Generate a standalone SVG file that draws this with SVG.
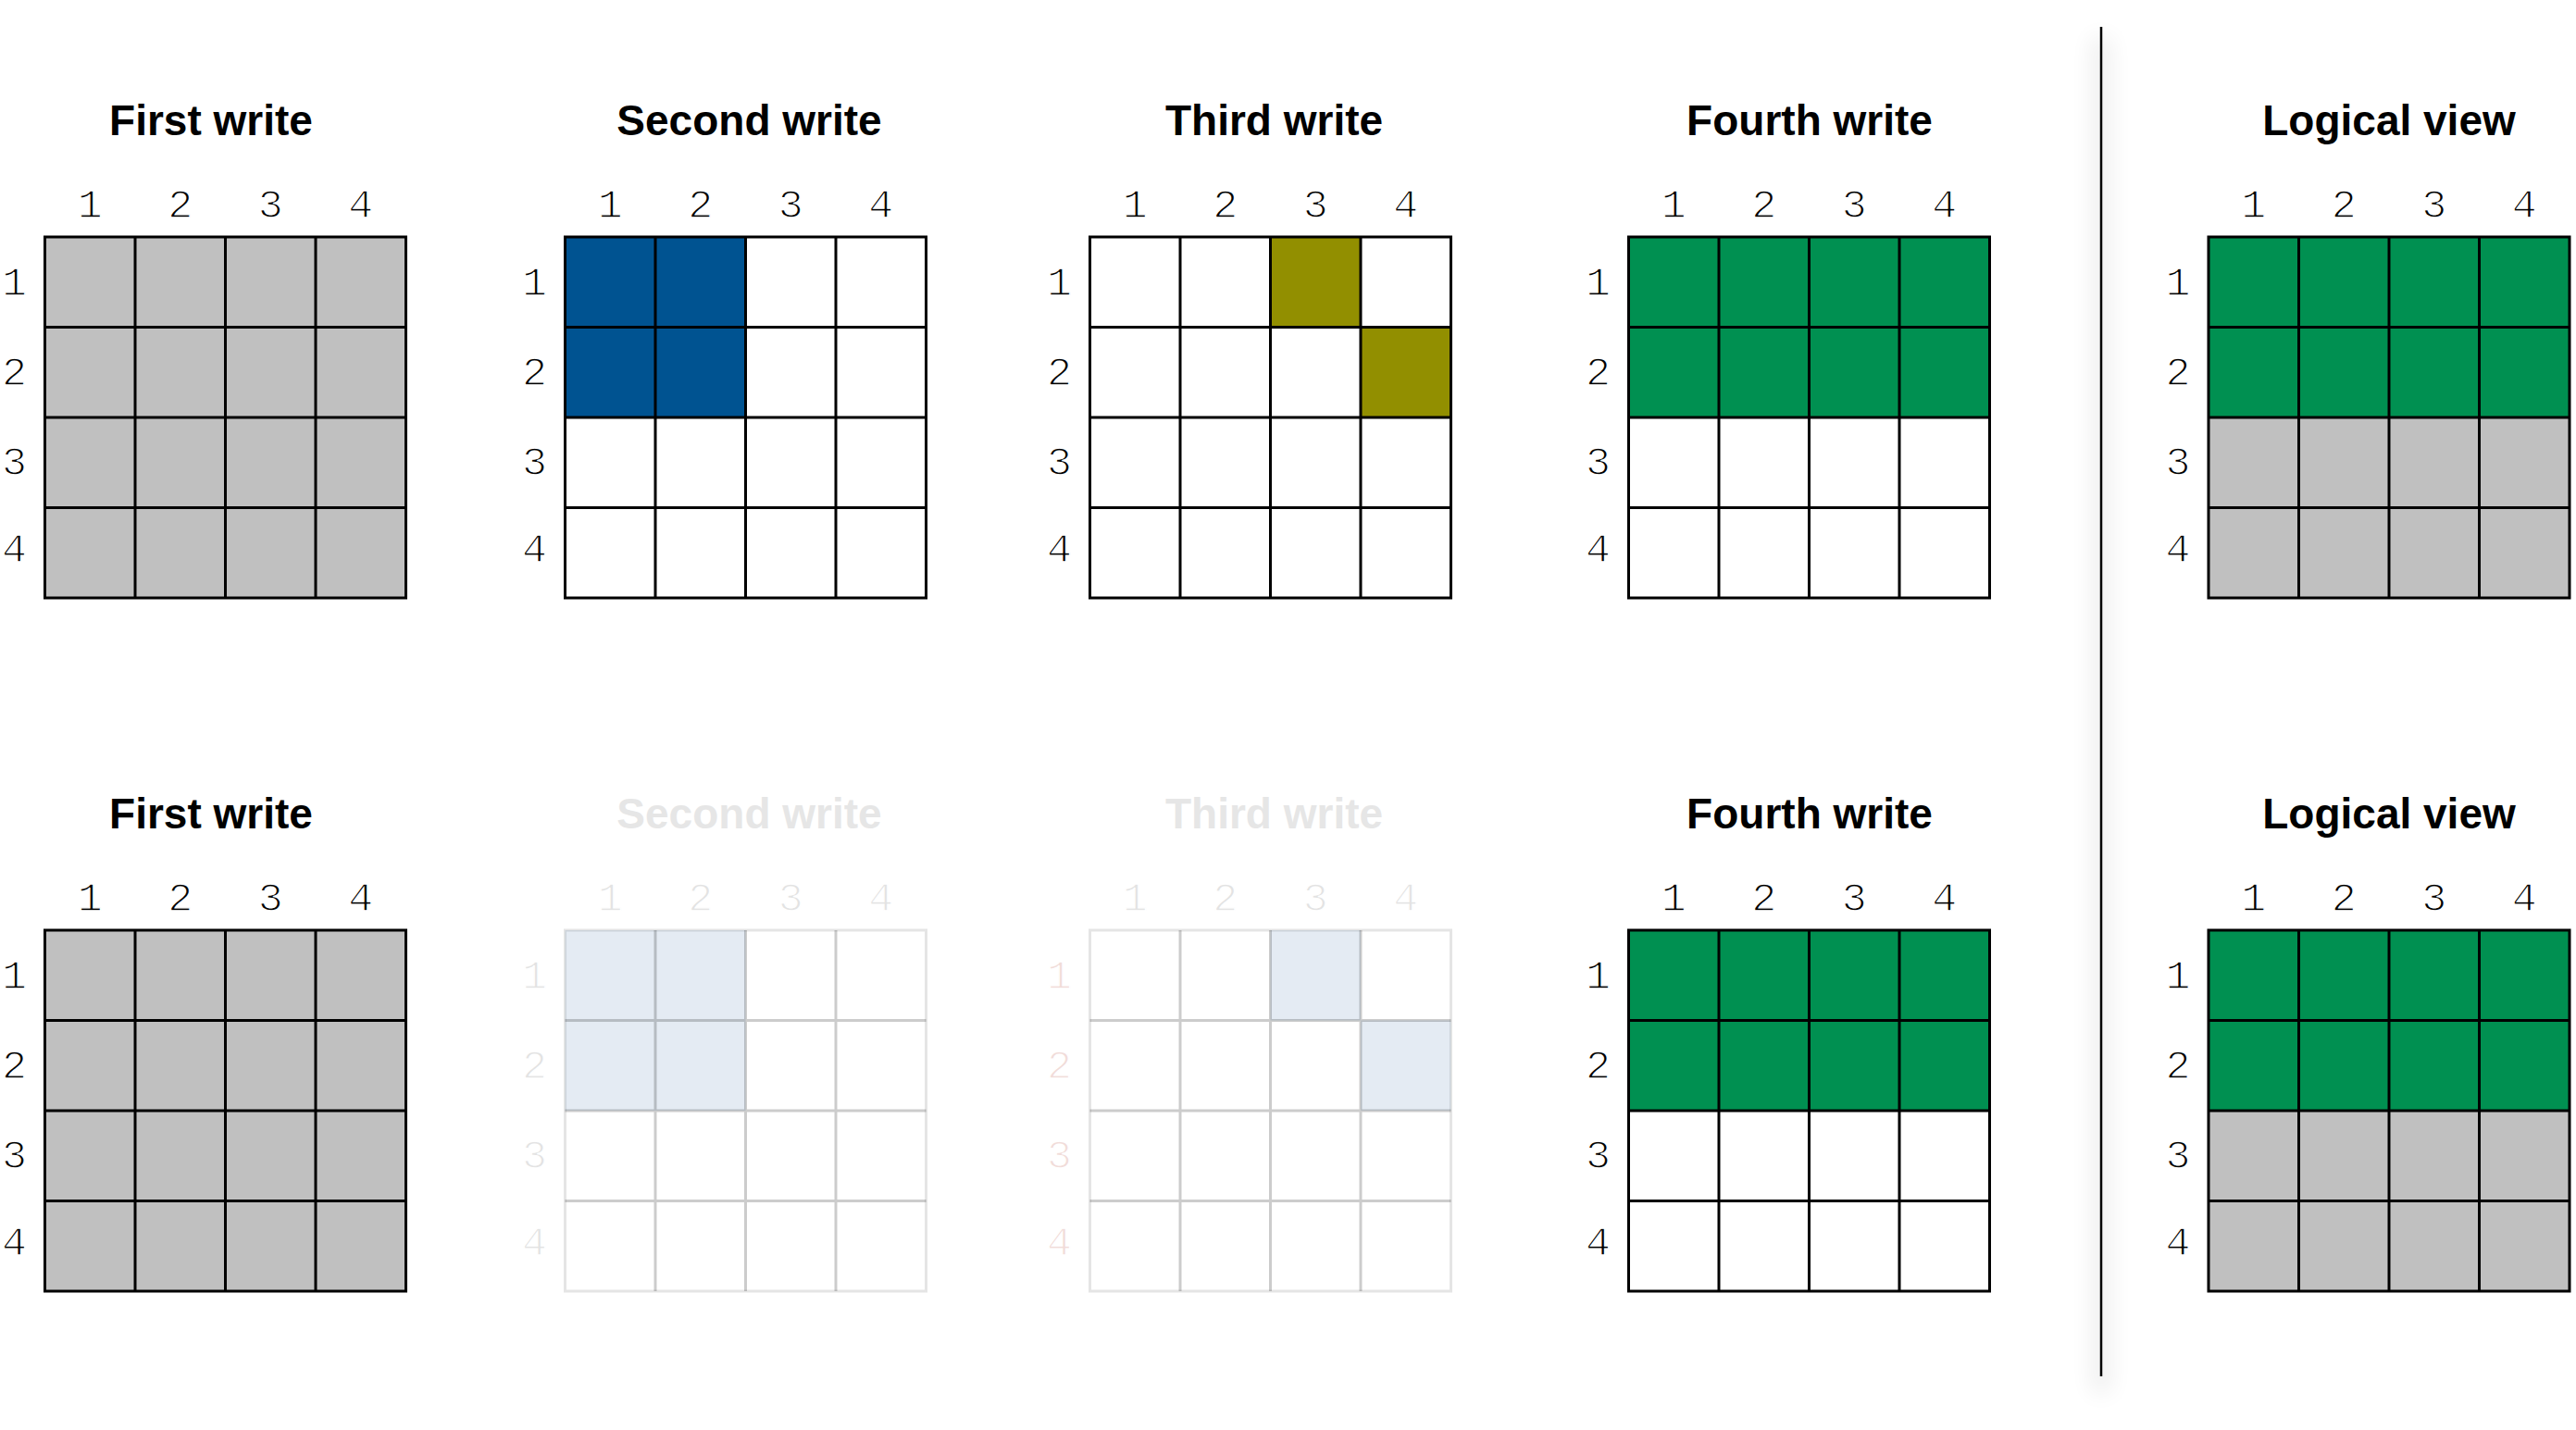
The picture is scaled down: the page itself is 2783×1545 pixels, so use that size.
<svg xmlns="http://www.w3.org/2000/svg" width="2783" height="1545" viewBox="0 0 2783 1545">
<defs>
<style>
.title{font-family:"Liberation Sans",Arial,sans-serif;font-weight:bold;font-size:46px;fill:#000;text-anchor:middle}
.num{font-family:"Liberation Mono","Courier New",monospace;font-size:45px;fill:#000;text-anchor:middle;stroke:#fff;stroke-width:1.4px}
.g{fill:#c0c0c0}
.w{fill:#ffffff}
.b{fill:#005391}
.o{fill:#928f00}
.gr{fill:#009051}
.lines{fill:none;stroke:#000;stroke-width:3}
.border{fill:none;stroke:#000;stroke-width:3}
.faded .title{fill:#e6e6e6}
.faded .num{fill:#e3e3e3}
.faded .num.pink{fill:#f1dcd9}
.faded .b{fill:#e4ebf3}
.faded .lines{stroke:#000;stroke-opacity:0.2}
.faded .border{stroke:#000;stroke-opacity:0.1}
</style>
<filter id="blur" x="-5" y="-1" width="11" height="3"><feGaussianBlur stdDeviation="12"/></filter>
<path id="inner" d="M97.5 0V390M195 0V390M292.5 0V390M0 97.5H390M0 195H390M0 292.5H390"/>
</defs>
<rect width="2783" height="1545" fill="#fff"/>

<!-- Row 1 -->
<g id="first-write-1" transform="translate(48.5,256)">
<text class="title" x="179.5" y="-110">First write</text>
<text class="num" x="48.75" y="-21">1</text><text class="num" x="146.25" y="-21">2</text><text class="num" x="243.75" y="-21">3</text><text class="num" x="341.25" y="-21">4</text>
<text class="num" x="-33" y="63">1</text><text class="num" x="-33" y="160">2</text><text class="num" x="-33" y="257">3</text><text class="num" x="-33" y="351">4</text>
<rect class="g" width="390" height="390"/>
<use href="#inner" class="lines"/>
<rect class="border" width="390" height="390"/>
</g>

<g id="second-write-1" transform="translate(610.5,256)">
<text class="title" x="199" y="-110">Second write</text>
<text class="num" x="48.75" y="-21">1</text><text class="num" x="146.25" y="-21">2</text><text class="num" x="243.75" y="-21">3</text><text class="num" x="341.25" y="-21">4</text>
<text class="num" x="-33" y="63">1</text><text class="num" x="-33" y="160">2</text><text class="num" x="-33" y="257">3</text><text class="num" x="-33" y="351">4</text>
<rect class="w" width="390" height="390"/>
<rect class="b" width="195" height="195"/>
<use href="#inner" class="lines"/>
<rect class="border" width="390" height="390"/>
</g>

<g id="third-write-1" transform="translate(1177.5,256)">
<text class="title" x="199" y="-110">Third write</text>
<text class="num" x="48.75" y="-21">1</text><text class="num" x="146.25" y="-21">2</text><text class="num" x="243.75" y="-21">3</text><text class="num" x="341.25" y="-21">4</text>
<text class="num" x="-33" y="63">1</text><text class="num" x="-33" y="160">2</text><text class="num" x="-33" y="257">3</text><text class="num" x="-33" y="351">4</text>
<rect class="w" width="390" height="390"/>
<rect class="o" x="195" y="0" width="97.5" height="97.5"/>
<rect class="o" x="292.5" y="97.5" width="97.5" height="97.5"/>
<use href="#inner" class="lines"/>
<rect class="border" width="390" height="390"/>
</g>

<g id="fourth-write-1" transform="translate(1759.5,256)">
<text class="title" x="195.5" y="-110">Fourth write</text>
<text class="num" x="48.75" y="-21">1</text><text class="num" x="146.25" y="-21">2</text><text class="num" x="243.75" y="-21">3</text><text class="num" x="341.25" y="-21">4</text>
<text class="num" x="-33" y="63">1</text><text class="num" x="-33" y="160">2</text><text class="num" x="-33" y="257">3</text><text class="num" x="-33" y="351">4</text>
<rect class="w" width="390" height="390"/>
<rect class="gr" width="390" height="195"/>
<use href="#inner" class="lines"/>
<rect class="border" width="390" height="390"/>
</g>

<g id="logical-view-1" transform="translate(2386,256)">
<text class="title" x="195" y="-110">Logical view</text>
<text class="num" x="48.75" y="-21">1</text><text class="num" x="146.25" y="-21">2</text><text class="num" x="243.75" y="-21">3</text><text class="num" x="341.25" y="-21">4</text>
<text class="num" x="-33" y="63">1</text><text class="num" x="-33" y="160">2</text><text class="num" x="-33" y="257">3</text><text class="num" x="-33" y="351">4</text>
<rect class="g" width="390" height="390"/>
<rect class="gr" width="390" height="195"/>
<use href="#inner" class="lines"/>
<rect class="border" width="390" height="390"/>
</g>

<!-- Row 2 -->
<g id="first-write-2" transform="translate(48.5,1005)">
<text class="title" x="179.5" y="-110">First write</text>
<text class="num" x="48.75" y="-21">1</text><text class="num" x="146.25" y="-21">2</text><text class="num" x="243.75" y="-21">3</text><text class="num" x="341.25" y="-21">4</text>
<text class="num" x="-33" y="63">1</text><text class="num" x="-33" y="160">2</text><text class="num" x="-33" y="257">3</text><text class="num" x="-33" y="351">4</text>
<rect class="g" width="390" height="390"/>
<use href="#inner" class="lines"/>
<rect class="border" width="390" height="390"/>
</g>

<g id="second-write-2" class="faded" transform="translate(610.5,1005)">
<text class="title" x="199" y="-110">Second write</text>
<text class="num" x="48.75" y="-21">1</text><text class="num" x="146.25" y="-21">2</text><text class="num" x="243.75" y="-21">3</text><text class="num" x="341.25" y="-21">4</text>
<text class="num" x="-33" y="63">1</text><text class="num" x="-33" y="160">2</text><text class="num" x="-33" y="257">3</text><text class="num" x="-33" y="351">4</text>
<rect class="w" width="390" height="390"/>
<rect class="b" width="195" height="195"/>
<use href="#inner" class="lines"/>
<rect class="border" width="390" height="390"/>
</g>

<g id="third-write-2" class="faded" transform="translate(1177.5,1005)">
<text class="title" x="199" y="-110">Third write</text>
<text class="num" x="48.75" y="-21">1</text><text class="num" x="146.25" y="-21">2</text><text class="num" x="243.75" y="-21">3</text><text class="num" x="341.25" y="-21">4</text>
<text class="num pink" x="-33" y="63">1</text><text class="num pink" x="-33" y="160">2</text><text class="num pink" x="-33" y="257">3</text><text class="num pink" x="-33" y="351">4</text>
<rect class="w" width="390" height="390"/>
<rect class="b" x="195" y="0" width="97.5" height="97.5"/>
<rect class="b" x="292.5" y="97.5" width="97.5" height="97.5"/>
<use href="#inner" class="lines"/>
<rect class="border" width="390" height="390"/>
</g>

<g id="fourth-write-2" transform="translate(1759.5,1005)">
<text class="title" x="195.5" y="-110">Fourth write</text>
<text class="num" x="48.75" y="-21">1</text><text class="num" x="146.25" y="-21">2</text><text class="num" x="243.75" y="-21">3</text><text class="num" x="341.25" y="-21">4</text>
<text class="num" x="-33" y="63">1</text><text class="num" x="-33" y="160">2</text><text class="num" x="-33" y="257">3</text><text class="num" x="-33" y="351">4</text>
<rect class="w" width="390" height="390"/>
<rect class="gr" width="390" height="195"/>
<use href="#inner" class="lines"/>
<rect class="border" width="390" height="390"/>
</g>

<g id="logical-view-2" transform="translate(2386,1005)">
<text class="title" x="195" y="-110">Logical view</text>
<text class="num" x="48.75" y="-21">1</text><text class="num" x="146.25" y="-21">2</text><text class="num" x="243.75" y="-21">3</text><text class="num" x="341.25" y="-21">4</text>
<text class="num" x="-33" y="63">1</text><text class="num" x="-33" y="160">2</text><text class="num" x="-33" y="257">3</text><text class="num" x="-33" y="351">4</text>
<rect class="g" width="390" height="390"/>
<rect class="gr" width="390" height="195"/>
<use href="#inner" class="lines"/>
<rect class="border" width="390" height="390"/>
</g>

<!-- Separator -->
<g id="separator">
<rect x="2260" y="40" width="20" height="1465" fill="#000" opacity="0.07" filter="url(#blur)"/>
<line x1="2270" y1="29" x2="2270" y2="1487" stroke="#000" stroke-width="2.5"/>
</g>
</svg>
